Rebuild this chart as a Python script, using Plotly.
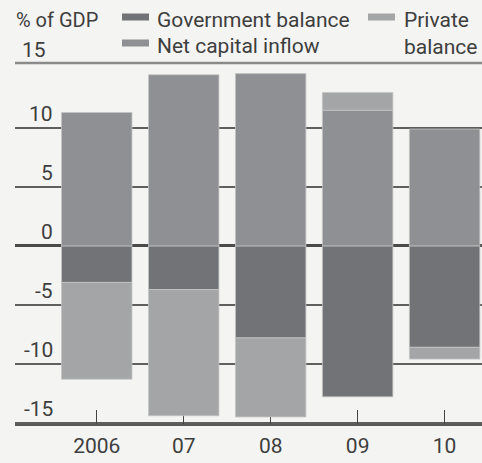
import plotly.graph_objects as go

years = ["2006", "07", "08", "09", "10"]
gov_balance = [-3.1, -3.7, -7.8, -12.8, -8.6]
net_capital_inflow = [11.3, 14.5, 14.6, 11.5, 9.9]
private_balance = [-8.2, -10.7, -6.7, 1.5, -1.0]
y_ticks = [-15, -10, -5, 0, 5, 10, 15]

x = list(range(len(years)))
FONT = "Roboto"
TXT = "#3e3e3e"
C_GOV = "#727377"
C_NET = "#8f9093"
C_PRI = "#a4a5a7"
BG = "#f4f4f2"
FS = 21

fig = go.Figure()
line = dict(color="#c4c4c4", width=0.8)
fig.add_trace(go.Bar(x=x, y=gov_balance, name="Government balance",
                     marker=dict(color=C_GOV, line=line), width=0.81))
fig.add_trace(go.Bar(x=x, y=net_capital_inflow, name="Net capital inflow",
                     marker=dict(color=C_NET, line=line), width=0.81))
fig.add_trace(go.Bar(x=x, y=private_balance, name="Private balance",
                     marker=dict(color=C_PRI, line=line), width=0.81))

fig.update_layout(
    width=482, height=463,
    margin=dict(l=15, r=0, t=63, b=39),
    barmode="relative",
    paper_bgcolor=BG, plot_bgcolor=BG,
    showlegend=False,
    font=dict(family=FONT, color=TXT, size=FS),
)
fig.update_xaxes(
    range=[-0.94, 4.43], tickvals=x, ticktext=years,
    showgrid=False, zeroline=False,
    showline=True, linecolor="#5a5a5a", linewidth=2,
    ticks="inside", ticklen=14, tickcolor="#444", tickwidth=1,
    tickfont=dict(size=FS, color=TXT), layer="below traces",
    ticklabelstandoff=2,
)
fig.update_yaxes(
    range=[-15.1, 15.5], tickvals=[t for t in y_ticks if t != 15],
    showticklabels=False, showgrid=True, gridcolor="#5f5f5f", gridwidth=1.5,
    zeroline=True, zerolinecolor="#4a4a4a", zerolinewidth=2.5,
)

# top rule
fig.add_shape(type="line", xref="paper", yref="paper", x0=0, x1=1, y0=1, y1=1,
              line=dict(color="#8a8a8a", width=2.5))

# y tick labels above gridlines
for t in y_ticks:
    if t == 15:
        fig.add_annotation(text="15", xref="paper", yref="paper",
                           x=(48 - 15) / 467, y=1, xanchor="right", yanchor="bottom",
                           yshift=-1, showarrow=False, font=dict(size=FS, color=TXT))
    else:
        fig.add_annotation(text=("-" + str(abs(t))) if t < 0 else str(t),
                           xref="paper", yref="y", x=(55 - 15) / 467, y=t,
                           xanchor="right", yanchor="bottom", yshift=0,
                           showarrow=False, font=dict(size=FS, color=TXT))

def px_to_paper_y(py):
    return (463 - 39 - py) / 361

def px_to_paper_x(px):
    return (px - 15) / 467

# unit label
fig.add_annotation(text="% of GDP", xref="paper", yref="paper",
                   x=px_to_paper_x(14), y=px_to_paper_y(20), xanchor="left", yanchor="middle",
                   showarrow=False, font=dict(size=20, color=TXT))

# legend (manual)
legend_items = [
    ("Government balance", C_GOV, 122, 17, 155),
    ("Net capital inflow", C_NET, 122, 43, 155),
    ("Private<br>balance", C_PRI, 368, 17, 402),
]
for label, col, sx, sy, tx in legend_items:
    fig.add_shape(type="rect", xref="paper", yref="paper",
                  x0=px_to_paper_x(sx), x1=px_to_paper_x(sx + 27),
                  y0=px_to_paper_y(sy + 3.5), y1=px_to_paper_y(sy - 3.5),
                  fillcolor=col, line=dict(width=0))
for label, col, sx, sy, tx in legend_items:
    if "<br>" in label:
        fig.add_annotation(text=label, xref="paper", yref="paper",
                           x=px_to_paper_x(tx), y=px_to_paper_y(6), xanchor="left", yanchor="top",
                           align="left", showarrow=False,
                           font=dict(size=FS, color=TXT))
    else:
        fig.add_annotation(text=label, xref="paper", yref="paper",
                           x=px_to_paper_x(tx), y=px_to_paper_y(sy + 3), xanchor="left", yanchor="middle",
                           showarrow=False, font=dict(size=FS, color=TXT))

fig.write_html("out.html")
